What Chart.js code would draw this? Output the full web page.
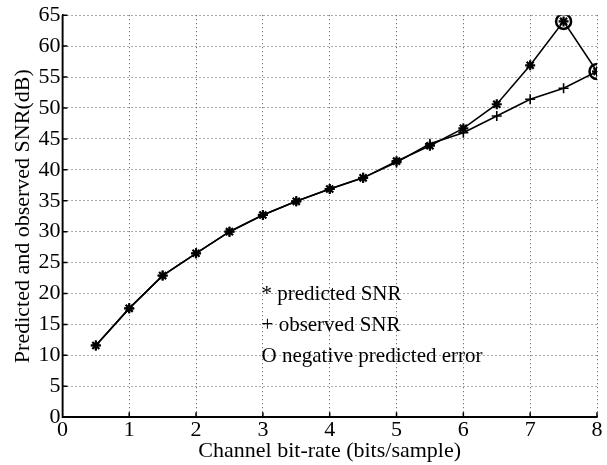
<!DOCTYPE html>
<html lang="en">
<head>
  <meta charset="UTF-8" />
  <title>Predicted and observed SNR</title>
  <script src="https://cdn.jsdelivr.net/npm/chart.js"></script>
  <style>
    body { margin: 0; background: #fff; }
    #wrap { width: 607px; height: 465px; }
  </style>
</head>
<body>
<div id="wrap"><canvas id="snrChart" width="607" height="465"></canvas></div>

<script>
  const bitRates = [0.5, 1, 1.5, 2, 2.5, 3, 3.5, 4, 4.5, 5, 5.5, 6, 6.5, 7, 7.5, 8];
  const predictedSnr = [11.6, 17.6, 22.9, 26.5, 30.0, 32.7, 34.9, 36.9, 38.7, 41.4, 43.9, 46.7, 50.6, 56.9, 64.0, 55.9];
  const observedSnr  = [11.6, 17.6, 22.9, 26.5, 30.0, 32.7, 34.9, 36.9, 38.7, 41.2, 44.2, 46.0, 48.7, 51.4, 53.2, 55.9];
  // points where the predicted error is negative
  const negErrRates = [7.5, 8];
  const legendLines = ['* predicted SNR', '+ observed SNR', 'O negative predicted error'];

  const serif = '"Liberation Serif", "DejaVu Serif", serif';

  function pts(xs, ys) { return xs.map((x, i) => ({ x: x, y: ys[i] })); }

  const negErrPts = negErrRates.map(x => ({ x: x, y: predictedSnr[bitRates.indexOf(x)] }));

  // legend text sits inside the plot area, one line per grid row
  const textLegend = {
    id: 'textLegend',
    afterDraw(chart) {
      const c = chart.ctx;
      const xs = chart.scales.x, ys = chart.scales.y;
      c.save();
      c.fillStyle = '#000';
      c.font = '21px ' + serif;
      c.textBaseline = 'middle';
      const left = xs.getPixelForValue(2.98);
      const rows = [19.8, 14.8, 9.8];
      legendLines.forEach((t, i) => c.fillText(t, left, ys.getPixelForValue(rows[i])));
      c.restore();
    }
  };

  // solid left/bottom axis lines with short inward tick marks
  const axisLines = {
    id: 'axisLines',
    afterDatasetsDraw(chart) {
      const a = chart.chartArea, c = chart.ctx;
      const xs = chart.scales.x, ys = chart.scales.y;
      c.save();
      c.strokeStyle = '#000';
      c.lineWidth = 1.5;
      c.beginPath();
      c.moveTo(a.left, a.top);
      c.lineTo(a.left, a.bottom);
      c.lineTo(a.right, a.bottom);
      xs.ticks.forEach(t => {
        const px = xs.getPixelForValue(t.value);
        c.moveTo(px, a.bottom);
        c.lineTo(px, a.bottom - 5);
      });
      ys.ticks.forEach(t => {
        const py = ys.getPixelForValue(t.value);
        c.moveTo(a.left, py);
        c.lineTo(a.left + 5, py);
      });
      c.stroke();
      c.restore();
    }
  };

  const ctx = document.getElementById('snrChart').getContext('2d');
  new Chart(ctx, {
    type: 'scatter',
    data: {
      datasets: [
        {
          label: 'predicted SNR',
          data: pts(bitRates, predictedSnr),
          showLine: true,
          borderColor: '#000',
          borderWidth: 1.6,
          pointStyle: 'star',
          pointRadius: 5,
          pointBorderWidth: 2.2,
          pointBorderColor: '#000',
          pointBackgroundColor: '#000'
        },
        {
          label: 'observed SNR',
          data: pts(bitRates, observedSnr),
          showLine: true,
          borderColor: '#000',
          borderWidth: 1.6,
          pointStyle: 'cross',
          pointRadius: 5,
          pointBorderWidth: 1.6,
          pointBorderColor: '#000'
        },
        {
          label: 'negative predicted error',
          data: negErrPts,
          showLine: false,
          pointStyle: 'circle',
          pointRadius: 7.5,
          pointBorderWidth: 2.5,
          pointBorderColor: '#000',
          pointBackgroundColor: 'rgba(0,0,0,0)'
        }
      ]
    },
    options: {
      responsive: false,
      animation: false,
      layout: { padding: { top: 6, right: 9, left: 10, bottom: 1 } },
      scales: {
        x: {
          type: 'linear',
          min: 0,
          max: 8,
          ticks: { stepSize: 1, color: '#000', font: { family: serif, size: 22 }, padding: 0 },
          grid: { color: '#555', lineWidth: 1, drawTicks: false },
          border: { display: true, color: '#000', width: 1.5, dash: [1, 3] },
          title: {
            display: true,
            text: 'Channel bit-rate (bits/sample)',
            color: '#000',
            font: { family: serif, size: 22 },
            padding: { top: -6, bottom: 0 }
          }
        },
        y: {
          min: 0,
          max: 65,
          ticks: { stepSize: 5, color: '#000', font: { family: serif, size: 22 }, padding: 2 },
          grid: { color: '#555', lineWidth: 1, drawTicks: false },
          border: { display: true, color: '#000', width: 1.5, dash: [1, 3] },
          title: {
            display: true,
            text: 'Predicted and observed SNR(dB)',
            color: '#000',
            font: { family: serif, size: 22 },
            padding: { top: 0, bottom: 0 }
          }
        }
      },
      plugins: {
        legend: { display: false },
        tooltip: { enabled: false }
      }
    },
    plugins: [textLegend, axisLines]
  });
</script>
</body>
</html>
